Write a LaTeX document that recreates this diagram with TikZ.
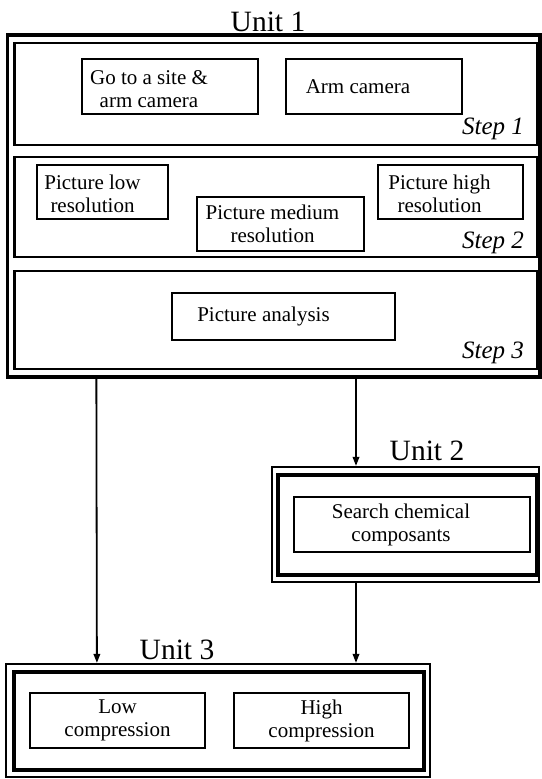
\documentclass[tikz,border=0pt]{standalone}
\usepackage{fontspec}
\setmainfont{Liberation Serif}
\usepackage{tikz}
\usetikzlibrary{arrows.meta,positioning}

\begin{document}
\begin{tikzpicture}[x=1pt, y=-1pt,
  every node/.style={font=\fontsize{21}{23}\selectfont},
  every label/.style={align=center},
  unitbox/.style={draw, line width=3.3pt, inner sep=0pt},
  unitin/.style={draw, line width=3.3pt, inner sep=0pt},
  unitout/.style={draw, line width=2.2pt, inner sep=0pt},
  stepbox/.style={draw, line width=2.8pt, inner sep=0pt},
  task/.style={draw, line width=2.6pt, inner sep=0pt, align=center},
  title/.style={font=\fontsize{29.5}{32}\selectfont, anchor=base},
  steplbl/.style={font=\fontsize{25}{28}\selectfont\itshape, anchor=base east},
  arr/.style={-{Triangle[length=9pt,width=6.5pt]}, line width=1.8pt}
]
  \useasboundingbox (0,0) rectangle (541,779);

  % unit 1
  \node[title] (t1) at (268,31) {Unit 1};
  \node[unitbox, minimum width=532.5, minimum height=342] (u1) at (273.75,206) {};
  \node[stepbox, minimum width=522.5, minimum height=102] (s1) at (275.75,94) {};
  \node[stepbox, minimum width=522.5, minimum height=100] (s2) at (275.75,207) {};
  \node[stepbox, minimum width=522.5, minimum height=98] (s3) at (275.75,320) {};

  \node[task, minimum width=176, minimum height=55,
        label={[shift={(-21,3)}]center:Go to a site \&\\arm camera}] (goto) at (170,86.5) {};
  \node[task, minimum width=176, minimum height=55,
        label={[xshift=-16pt]center:Arm camera}] (arm) at (374,86.5) {};

  \node[task, minimum width=131, minimum height=54,
        label={[shift={(-10,2)}]center:Picture low\\resolution}] (plow) at (102.5,192) {};
  \node[task, minimum width=167, minimum height=54,
        label={[xshift=-8pt]center:Picture medium\\resolution}] (pmed) at (280.5,224) {};
  \node[task, minimum width=145, minimum height=54,
        label={[shift={(-11,2)}]center:Picture high\\resolution}] (phigh) at (450.5,192) {};

  \node[task, minimum width=223, minimum height=47,
        label={[xshift=-20pt]center:Picture analysis}] (ana) at (283.5,316.5) {};

  \node[steplbl] (l1) at ([shift={(-11,-12)}]s1.south east) {Step 1};
  \node[steplbl] (l2) at ([shift={(-11,-10)}]s2.south east) {Step 2};
  \node[steplbl] (l3) at ([shift={(-11,-12)}]s3.south east) {Step 3};

  % unit 2
  \node[title] (t2) at (427,460) {Unit 2};
  \node[unitout, minimum width=267, minimum height=115] (u2) at (405.5,524.5) {};
  \node[unitin, minimum width=259, minimum height=100] (u2i) at (407.5,525) {};
  \node[task, minimum width=236, minimum height=55,
        label={[xshift=-11pt]center:Search chemical\\composants}] (search) at (412,524.5) {};

  % unit 3
  \node[title] (t3) at (177,659) {Unit 3};
  \node[unitout, minimum width=424, minimum height=113] (u3) at (218,720.5) {};
  \node[unitin, minimum width=410, minimum height=98] (u3i) at (219,721) {};
  \node[task, minimum width=175, minimum height=55] (lowc) at (117.5,720.5) {Low\\compression};
  \node[task, minimum width=175, minimum height=55] (highc) at (321.5,720.5) {High\\compression};

  \draw[arr] ([xshift=90.5pt]u1.south west) -- ([xshift=92pt]u3.north west);
  \draw[arr] ([xshift=82.25pt]u1.south) -- ([xshift=-49.5pt]u2.north);
  \draw[arr] ([xshift=-49.5pt]u2.south) -- ([xshift=138pt]u3.north);
\end{tikzpicture}
\end{document}
